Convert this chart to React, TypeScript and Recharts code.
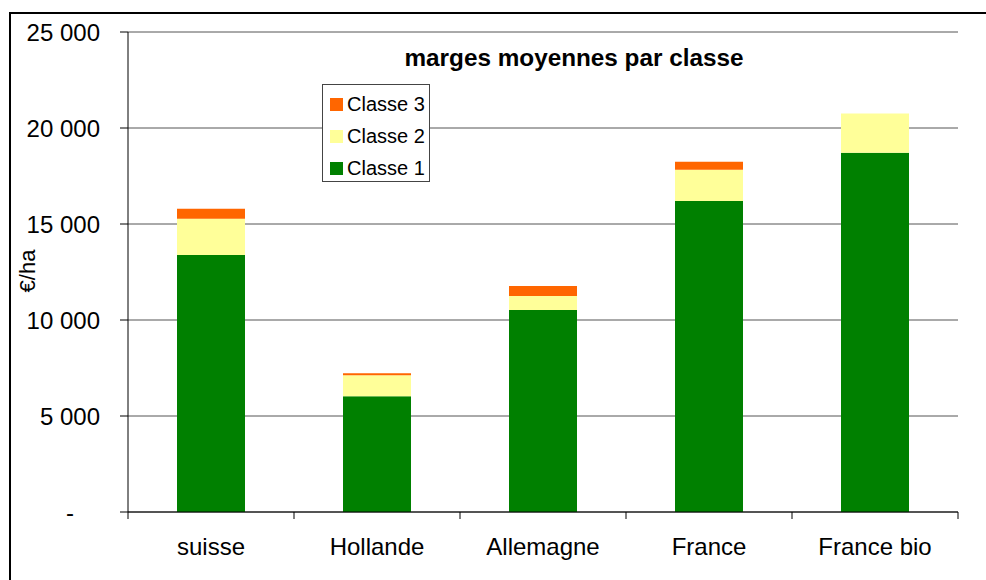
import React from 'react';
import { BarChart, Bar, XAxis, YAxis, CartesianGrid, Legend } from 'recharts';

const categories = ['suisse', 'Hollande', 'Allemagne', 'France', 'France bio'];
const classe1 = [13390, 6030, 10520, 16200, 18710];
const classe2 = [1880, 1095, 730, 1620, 2040];
const classe3 = [520, 105, 520, 420, 0];
const yTicks = [0, 5000, 10000, 15000, 20000, 25000];

const seriesNames = ['Classe 1', 'Classe 2', 'Classe 3'];
const seriesColors = ['#008000', '#FFFF99', '#FF6600'];

const data = categories.map((c, i) => ({
  name: c,
  c1: classe1[i],
  c2: classe2[i],
  c3: classe3[i],
}));

const FONT = '"Liberation Sans", Arial, sans-serif';

const fmt = (v: number) => {
  if (v === 0) return '-';
  const s = String(Math.round(v));
  return s.replace(/\B(?=(\d{3})+(?!\d))/g, ' ');
};

const YTick = (props: any) => {
  const { x, y, payload } = props;
  const v = payload.value;
  return (
    <text
      x={v === 0 ? x - 26 : x}
      y={y}
      dy="0.355em"
      textAnchor="end"
      fontSize={24}
      fontFamily={FONT}
      fill="#000"
    >
      {fmt(v)}
    </text>
  );
};

const XTick = (props: any) => {
  const { x, y, payload, index, visibleTicksCount } = props;
  const off = payload && typeof payload.offset === 'number' && payload.offset > 0 ? payload.offset : 83;
  const isLast = index === (visibleTicksCount ?? categories.length) - 1;
  return (
    <g>
      <line x1={x - off} x2={x - off} y1={y} y2={y + 7} stroke="#000" strokeWidth={1} />
      {isLast && <line x1={x + off} x2={x + off} y1={y} y2={y + 7} stroke="#000" strokeWidth={1} />}
      <text x={x} y={y + 43} textAnchor="middle" fontSize={24} fontFamily={FONT} fill="#000">
        {payload.value}
      </text>
    </g>
  );
};

const LegendContent = () => {
  const order = [2, 1, 0];
  return (
    <div
      style={{
        position: 'relative',
        width: 106,
        height: 96,
        border: '1px solid #444',
        background: '#fff',
        boxSizing: 'content-box',
      }}
    >
      {order.map((k, i) => (
        <div
          key={k}
          style={{
            position: 'absolute',
            left: 7,
            top: 13 + i * 32 - 7,
            height: 26,
            display: 'flex',
            alignItems: 'center',
            fontFamily: FONT,
            fontSize: 20,
            color: '#000',
            whiteSpace: 'nowrap',
          }}
        >
          <span
            style={{
              display: 'inline-block',
              width: 13,
              height: 13,
              background: seriesColors[k],
              marginRight: 4,
            }}
          />
          {seriesNames[k]}
        </div>
      ))}
    </div>
  );
};

export default function App() {
  return (
    <div
      style={{
        position: 'absolute',
        left: 0,
        top: 0,
        width: 986,
        height: 580,
        background: '#fff',
        overflow: 'hidden',
      }}
    >
      <div
        style={{
          position: 'absolute',
          left: 9,
          top: 12,
          width: 1000,
          height: 600,
          borderLeft: '2px solid #000',
          borderTop: '2px solid #000',
        }}
      />
      <div style={{ position: 'absolute', left: 0, top: 0 }}>
        <BarChart
          width={986}
          height={580}
          data={data}
          margin={{ top: 32, right: 28, left: 10, bottom: 8 }}
          barSize={68}
        >
          <CartesianGrid vertical={false} stroke="#555" strokeWidth={1} />
          <XAxis
            dataKey="name"
            height={60}
            tickSize={0}
            tickMargin={0}
            tickLine={false}
            axisLine={{ stroke: '#000' }}
            tick={<XTick />}
            interval={0}
          />
          <YAxis
            width={118}
            domain={[0, 25000]}
            ticks={yTicks}
            interval={0}
            tickSize={8}
            tickMargin={20}
            tickLine={{ stroke: '#000' }}
            axisLine={{ stroke: '#000' }}
            tick={<YTick />}
          />
          <Legend
            layout="vertical"
            verticalAlign="middle"
            align="center"
            wrapperStyle={{ position: 'absolute', left: 322, top: 84, width: 108, height: 98 }}
            content={<LegendContent />}
          />
          <Bar dataKey="c1" name="Classe 1" stackId="a" fill={seriesColors[0]} isAnimationActive={false} />
          <Bar dataKey="c2" name="Classe 2" stackId="a" fill={seriesColors[1]} isAnimationActive={false} />
          <Bar dataKey="c3" name="Classe 3" stackId="a" fill={seriesColors[2]} isAnimationActive={false} />
        </BarChart>
      </div>
      <div
        style={{
          position: 'absolute',
          left: 574,
          top: 44,
          transform: 'translateX(-50%)',
          fontFamily: FONT,
          fontWeight: 'bold',
          fontSize: 24.3,
          whiteSpace: 'nowrap',
          color: '#000',
          lineHeight: '28px',
        }}
      >
        marges moyennes par classe
      </div>
      <div
        style={{
          position: 'absolute',
          left: 28,
          top: 271,
          transform: 'translate(-50%, -50%) rotate(-90deg)',
          fontFamily: FONT,
          fontSize: 22,
          whiteSpace: 'nowrap',
          color: '#000',
          lineHeight: '26px',
        }}
      >
        €/ha
      </div>
    </div>
  );
}
